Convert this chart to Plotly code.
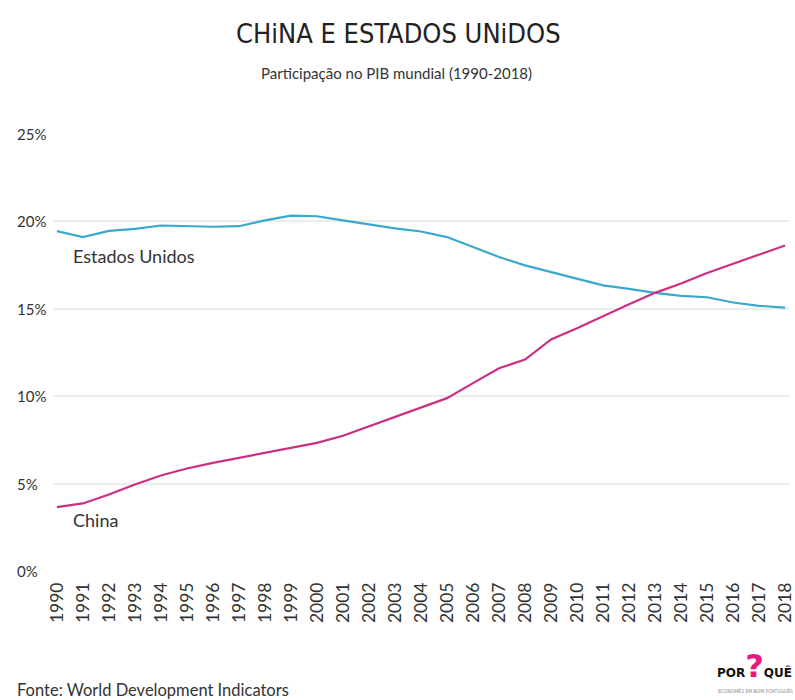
import plotly.graph_objects as go

years = list(range(1990, 2019))
usa = [19.44, 19.10, 19.45, 19.57, 19.76, 19.72, 19.69, 19.72, 20.05, 20.33,
       20.29, 20.05, 19.82, 19.60, 19.42, 19.10, 18.53, 17.96, 17.48, 17.10,
       16.72, 16.34, 16.14, 15.91, 15.74, 15.66, 15.36, 15.17, 15.07]
china = [3.66, 3.87, 4.38, 4.95, 5.47, 5.87, 6.19, 6.47, 6.76, 7.04,
         7.33, 7.74, 8.27, 8.80, 9.32, 9.89, 10.75, 11.60, 12.10, 13.25,
         13.88, 14.58, 15.26, 15.91, 16.44, 17.05, 17.58, 18.11, 18.62]
ytick_vals = [0, 5, 10, 15, 20, 25]
ytick_text = ["0%", "5%", "10%", "15%", "20%", "25%"]

US_COLOR = "#3aa8cc"
CN_COLOR = "#cc2f80"
TXT = "#333333"
FONT = "Lato"

fig = go.Figure()
fig.add_trace(go.Scatter(x=years, y=usa, mode="lines", name="Estados Unidos",
                         line=dict(color=US_COLOR, width=2.2)))
fig.add_trace(go.Scatter(x=years, y=china, mode="lines", name="China",
                         line=dict(color=CN_COLOR, width=2.2)))

W, H = 795, 700
L, R, T, B = 53, 0, 133, 128
pw = W - L - R
ph = H - T - B


def px(pixel_x):
    return (pixel_x - L) / pw


def py(pixel_y):
    return (H - B - pixel_y) / ph


annotations = []
for v, t in zip(ytick_vals, ytick_text):
    annotations.append(dict(x=px(15), xref="paper", y=v, yref="y",
                            text=t, showarrow=False, xanchor="left", yanchor="middle",
                            font=dict(family=FONT, size=15, color=TXT)))

annotations += [
    dict(x=1991, y=usa[1], xref="x", yref="y", text="Estados Unidos", showarrow=False,
         xanchor="left", yanchor="top", yshift=-6, xshift=-12,
         font=dict(family=FONT, size=18, color=TXT)),
    dict(x=1991, y=china[1], xref="x", yref="y", text="China", showarrow=False,
         xanchor="left", yanchor="top", yshift=-4, xshift=-12,
         font=dict(family=FONT, size=18, color=TXT)),
    dict(x=px(401), xref="paper", y=py(34), yref="paper",
         text="CHiNA E ESTADOS UNiDOS", showarrow=False, xanchor="center", yanchor="middle",
         font=dict(family="DejaVu Sans Condensed", size=27, color="#222222")),
    dict(x=px(399), xref="paper", y=py(73), yref="paper",
         text="Participação no PIB mundial (1990-2018)", showarrow=False,
         xanchor="center", yanchor="middle",
         font=dict(family=FONT, size=15, color=TXT)),
    dict(x=px(15), xref="paper", y=py(690), yref="paper",
         text="Fonte: World Development Indicators", showarrow=False,
         xanchor="left", yanchor="middle",
         font=dict(family=FONT, size=16.5, color=TXT)),
    dict(x=px(721), xref="paper", y=py(686), yref="paper",
         text="<b>POR<span style='color:#e8197d;font-size:32px'>?</span>QUÊ</b>",
         showarrow=False, xanchor="left", yanchor="bottom", borderpad=0,
         font=dict(family="DejaVu Sans", size=12, color="#111111")),
    dict(x=px(722), xref="paper", y=py(691), yref="paper",
         text="ECONOMÊS EM BOM PORTUGUÊS", showarrow=False, xanchor="left", yanchor="middle",
         borderpad=0, font=dict(family="DejaVu Sans Condensed", size=5, color="#888888")),
]

fig.update_layout(
    width=W, height=H,
    margin=dict(l=L, r=R, t=T, b=B),
    paper_bgcolor="white", plot_bgcolor="white",
    showlegend=False,
    font=dict(family=FONT, color=TXT),
    xaxis=dict(range=[1989.85, 2018.15], tickmode="array", tickvals=years,
               ticktext=[str(y) for y in years], tickangle=-90,
               tickfont=dict(family=FONT, size=17.5, color=TXT),
               showgrid=False, zeroline=False, showline=False, ticks="",
               ticklabelstandoff=6, ticklabeloverflow="allow"),
    yaxis=dict(range=[-0.05, 25.05], tickvals=ytick_vals, showticklabels=False,
               showgrid=True, gridcolor="#ececec", gridwidth=1.5, zeroline=False, showline=False),
    annotations=annotations,
)
fig.write_html("out.html")
